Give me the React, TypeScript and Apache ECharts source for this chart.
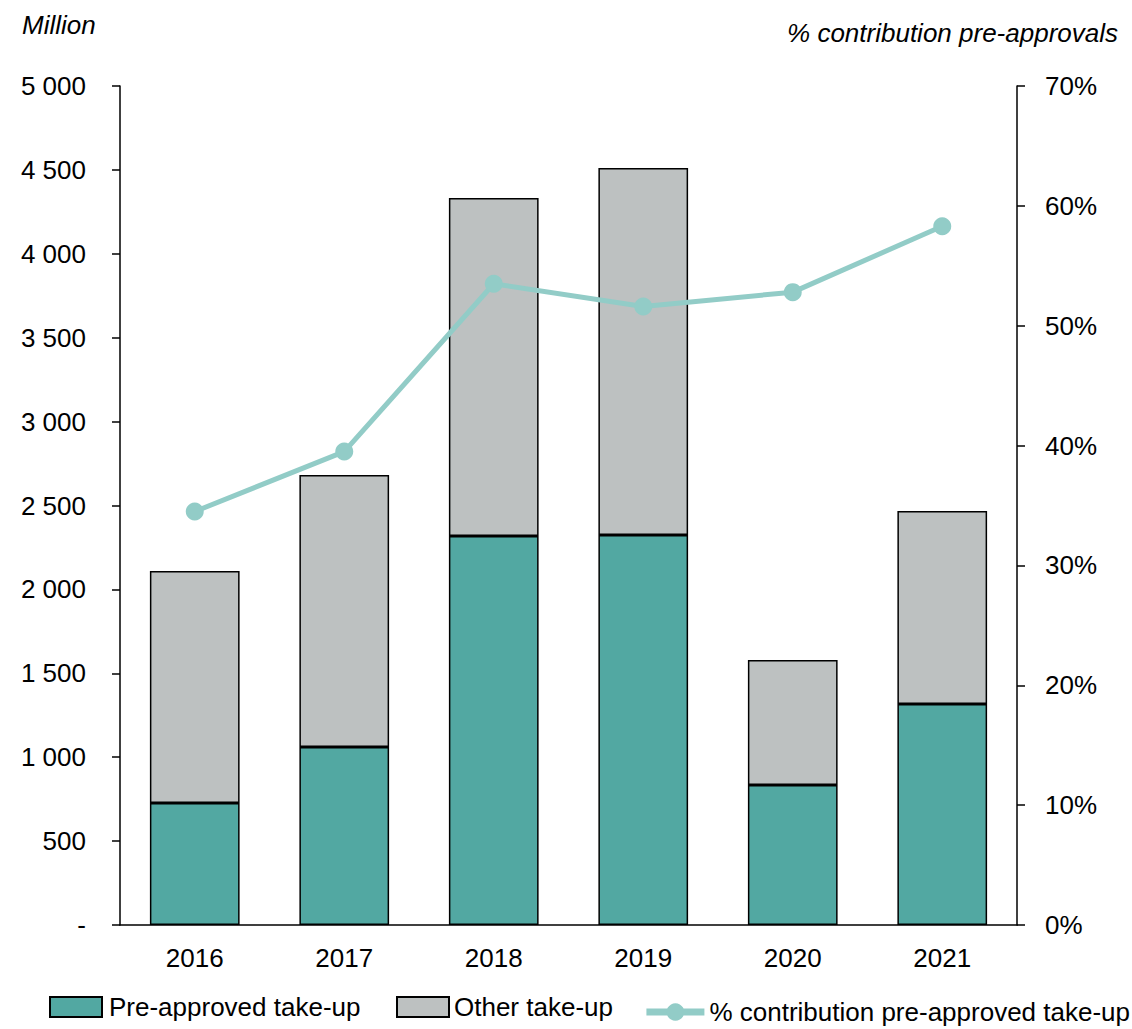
import React, { useEffect, useRef } from "react";
import * as echarts from "echarts";

const years = ["2016", "2017", "2018", "2019", "2020", "2021"];
const preApproved = [727, 1061, 2318, 2324, 834, 1317];
const otherTakeUp = [1383, 1621, 2015, 2187, 745, 1150];
const contributionPct = [34.5, 39.5, 53.5, 51.6, 52.8, 58.3];

const FONT = "'Liberation Sans', Arial, sans-serif";
const FS = 26;

const legendText = { fontSize: FS, color: "#000", fontFamily: FONT };

export default function App() {
  const ref = useRef<HTMLDivElement>(null);
  useEffect(() => {
    if (!ref.current) return;
    const chart = echarts.init(ref.current, undefined, { renderer: "svg" });
    chart.setOption({
      animation: false,
      textStyle: { fontFamily: FONT },
      grid: { left: 120, right: 115, top: 86, bottom: 104, containLabel: false },
      graphic: [
        {
          type: "text",
          left: 22,
          top: 12,
          style: { text: "Million", font: `italic ${FS}px ${FONT}`, fill: "#000" },
        },
        {
          type: "text",
          right: 14,
          top: 20,
          style: { text: "% contribution pre-approvals", font: `italic ${FS}px ${FONT}`, fill: "#000" },
        },
      ],
      legend: [
        {
          bottom: 4,
          left: 44,
          itemWidth: 52,
          itemHeight: 20,
          textStyle: { ...legendText, padding: [0, 0, 0, 2] },
          data: [{ name: "Pre-approved take-up", icon: "rect" }],
        },
        {
          bottom: 4,
          left: 391,
          itemWidth: 52,
          itemHeight: 20,
          textStyle: { ...legendText, padding: [0, 0, 0, 0] },
          data: [{ name: "Other take-up", icon: "rect" }],
        },
        {
          bottom: 4,
          right: 2,
          padding: 0,
          itemWidth: 58,
          itemHeight: 22,
          textStyle: { ...legendText, padding: [0, 0, 0, 0] },
          lineStyle: { width: 7 },
          data: [{ name: "% contribution pre-approved take-up" }],
        },
      ],
      xAxis: {
        type: "category",
        data: years,
        axisLine: { lineStyle: { color: "#000", width: 1.5 } },
        axisTick: { show: false },
        axisLabel: { fontSize: FS, color: "#000", margin: 20, fontFamily: FONT },
      },
      yAxis: [
        {
          type: "value",
          min: 0,
          max: 5000,
          interval: 500,
          splitLine: { show: false },
          axisLine: { show: true, lineStyle: { color: "#000", width: 1.5 } },
          axisTick: { show: true, length: 8, lineStyle: { color: "#000", width: 1.5 } },
          axisLabel: {
            fontSize: FS,
            color: "#000",
            margin: 34,
            fontFamily: FONT,
            formatter: (v: number) =>
              v === 0 ? "-" : String(v).replace(/\B(?=(\d{3})+(?!\d))/g, " "),
          },
        },
        {
          type: "value",
          min: 0,
          max: 70,
          interval: 10,
          position: "right",
          splitLine: { show: false },
          axisLine: { show: true, lineStyle: { color: "#000", width: 1.5 } },
          axisTick: { show: true, length: 8, lineStyle: { color: "#000", width: 1.5 } },
          axisLabel: {
            fontSize: FS,
            color: "#000",
            margin: 28,
            fontFamily: FONT,
            formatter: (v: number) => `${v}%`,
          },
        },
      ],
      series: [
        {
          name: "Pre-approved take-up",
          type: "bar",
          stack: "total",
          barWidth: "60%",
          data: preApproved,
          itemStyle: { color: "#52A8A2", borderColor: "#000", borderWidth: 1.5 },
        },
        {
          name: "Other take-up",
          type: "bar",
          stack: "total",
          barWidth: "60%",
          data: otherTakeUp,
          itemStyle: { color: "#BDC1C1", borderColor: "#000", borderWidth: 1.5 },
        },
        {
          name: "% contribution pre-approved take-up",
          type: "line",
          yAxisIndex: 1,
          data: contributionPct,
          symbol: "circle",
          symbolSize: 18,
          lineStyle: { color: "#92CCC7", width: 5 },
          itemStyle: { color: "#92CCC7" },
        },
      ],
    });
    return () => chart.dispose();
  }, []);
  return (
    <div
      ref={ref}
      style={{ position: "fixed", left: 0, top: 0, width: 1132, height: 1029, background: "#fff" }}
    />
  );
}
